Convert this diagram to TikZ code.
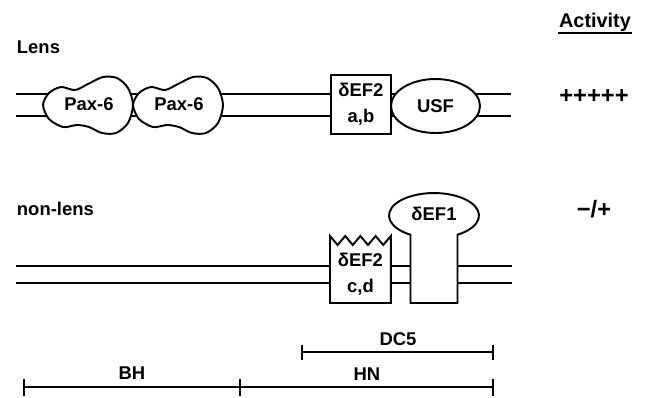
\documentclass[tikz,border=0pt]{standalone}
\usepackage{fontspec}
\setmainfont{Liberation Sans}
\usetikzlibrary{shapes.geometric}
\begin{document}
\begin{tikzpicture}[x=0.02cm,y=0.02cm,line width=1.1pt,
  every node/.style={font=\fontsize{10.5}{15}\selectfont\bfseries,inner sep=0pt},
  factor/.style={draw,fill=white},
  score/.style={font=\fontsize{13.5}{15}\selectfont\bfseries}]
\useasboundingbox (0,0) rectangle (646,-397);

\node[anchor=west] (lens) at (16,-47) {Lens};
\node[anchor=base west] (nonlens) at (16,-215) {non-lens};
\node[anchor=base,font=\fontsize{11.3}{15}\selectfont\bfseries] (act) at (595,-27) {Activity};
\draw[line width=1pt] ([yshift=-0.12cm]act.base west) -- ([yshift=-0.12cm]act.base east);
\node[score] (actlens) at (594,-97) {+++++};
\node[score] (actnon) at (594,-209) {−/+};

% lens
\coordinate (la) at (16,-94);
\coordinate (lb) at (511,-94);
\coordinate (lc) at (16,-116);
\coordinate (ld) at (511,-116);
\draw (la) -- (lb);
\draw (lc) -- (ld);

\foreach \x/\n in {43/paxA,133/paxB}{
  \draw[factor,shift={(\x,-105)}] plot[smooth cycle] coordinates {(0,0) (6,12) (18,18) (32,15) (45,21) (60,28) (74,27) (85,17) (90,0) (85,-18) (73,-28) (59,-28) (46,-22) (34,-20) (20,-22) (6,-14)};
  \node (\n) at (\x+46,-104) {Pax-6};
}
\node[factor,minimum width=1.2cm,minimum height=1.18cm,align=center] (efab) at (361,-104.5) {δEF2\\a,b};
\node[factor,ellipse,minimum width=1.78cm,minimum height=1.08cm] (usf) at (435.5,-106) {USF};

% non-lens
\coordinate (na) at (16,-266);
\coordinate (nb) at (512,-266);
\coordinate (nc) at (16,-283);
\coordinate (nd) at (512,-283);
\draw (na) -- (nb);
\draw (nc) -- (nd);

\draw[factor] (330,-303) -- (330,-236) \foreach \i in {1,...,4}{ -- ++(7.6,-9) -- ++(7.6,9)} -- (390.8,-303) -- cycle;
\node[align=center] (efcd) at (360.5,-274) {δEF2\\c,d};
\draw[factor] (410.5,-303) -- (410.5,-234.7) arc[start angle=238.5,end angle=-58.5,x radius=0.9cm,y radius=0.45cm] -- (457.5,-303) -- cycle;
\node (efone) at (434,-214) {δEF1};

% fragments
\coordinate (bh0) at (24,-387);
\coordinate (bh1) at (240,-387);
\coordinate (hn1) at (493,-387);
\coordinate (dc0) at (302,-352);
\coordinate (dc1) at (493,-352);
\draw (bh0) -- (hn1);
\draw (dc0) -- (dc1);
\foreach \c in {bh0,bh1,hn1} \draw ([yshift=0.17cm]\c) -- ([yshift=-0.17cm]\c);
\foreach \c in {dc0,dc1} \draw ([yshift=0.15cm]\c) -- ([yshift=-0.15cm]\c);
\node (bh) at (132,-373) {BH};
\node (hn) at (367,-374) {HN};
\node (dc) at (398,-339) {DC5};
\end{tikzpicture}
\end{document}
